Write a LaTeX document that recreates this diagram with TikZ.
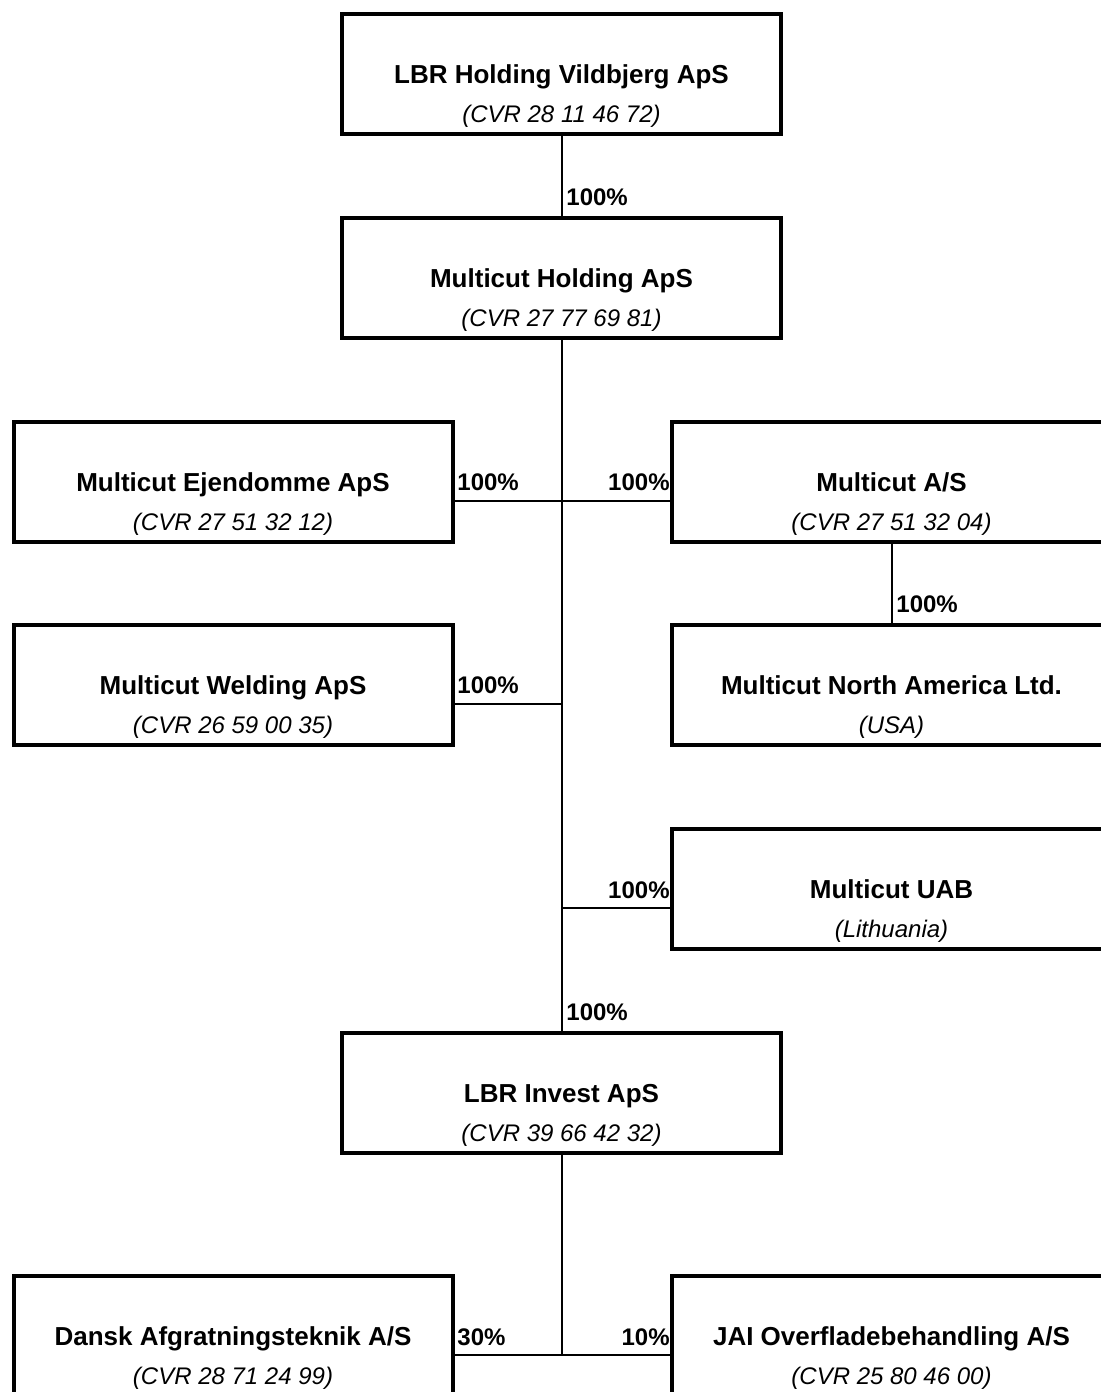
\documentclass[tikz,border=0pt]{standalone}
\usepackage{fontspec}
\setmainfont{Liberation Sans}
\usetikzlibrary{calc}
\newcommand\firmbox[4]{%
  \node[box] (#1) at (#2) {};
  \node[nm] (#1-t) at ($(#1)+(0,9)$) {#3};
  \node[cvr] (#1-s) at ($(#1)+(0,48)$) {#4};}
\begin{document}
\begin{tikzpicture}[x=0.5pt,y=-0.5pt,
  box/.style={draw, line width=2pt, minimum width=219.5pt, minimum height=60pt,
    inner sep=0pt, outer sep=0pt, fill=white},
  conn/.style={line width=1pt},
  nm/.style={font=\fontsize{13}{15}\selectfont\bfseries, anchor=base, inner sep=0pt},
  cvr/.style={font=\fontsize{12}{14}\selectfont\itshape, anchor=base, inner sep=0pt},
  pct/.style={font=\fontsize{12}{14}\selectfont\bfseries, inner sep=0pt}]
\useasboundingbox (0,0) rectangle (1101,1392);

\firmbox{A}{561.5,74}{LBR Holding Vildbjerg ApS}{(CVR 28 11 46 72)}
\firmbox{B}{561.5,278}{Multicut Holding ApS}{(CVR 27 77 69 81)}
\firmbox{C}{233,482}{Multicut Ejendomme ApS}{(CVR 27 51 32 12)}
\firmbox{D}{891.5,482}{Multicut A/S}{(CVR 27 51 32 04)}
\firmbox{E}{233,685}{Multicut Welding ApS}{(CVR 26 59 00 35)}
\firmbox{F}{891.5,685}{Multicut North America Ltd.}{(USA)}
\firmbox{G}{891.5,889}{Multicut UAB}{(Lithuania)}
\firmbox{H}{561.5,1093}{LBR Invest ApS}{(CVR 39 66 42 32)}
\firmbox{I}{233,1336}{Dansk Afgratningsteknik A/S}{(CVR 28 71 24 99)}
\firmbox{J}{891.5,1336}{JAI Overfladebehandling A/S}{(CVR 25 80 46 00)}

\coordinate (j1) at (561.5,704);
\coordinate (j2) at (561.5,908);
\coordinate (j3) at (561.5,1356);

\draw[conn] (A.south) -- (B.north);
\draw[conn] (B.south) -- (H.north);
\draw[conn] ([yshift=-9.5pt]C.east) -- ([yshift=-9.5pt]D.west);
\draw[conn] (D.south) -- (F.north);
\draw[conn] ([yshift=-9.5pt]E.east) -- (j1);
\draw[conn] (j2) -- ([yshift=-9.5pt]G.west);
\draw[conn] (H.south) -- (j3);
\draw[conn] ([yshift=-9.5pt]I.east) -- ([yshift=-9.5pt]J.west);

\node[pct, anchor=base west] (pAB) at (566,205) {100\%};
\node[pct, anchor=base west] (pBC) at (457,490) {100\%};
\node[pct, anchor=base east] (pBD) at (670,490) {100\%};
\node[pct, anchor=base west] (pBE) at (457,693) {100\%};
\node[pct, anchor=base west] (pDF) at (896,612) {100\%};
\node[pct, anchor=base east] (pBG) at (670,898) {100\%};
\node[pct, anchor=base west] (pBH) at (566,1020) {100\%};
\node[pct, anchor=base west] (pHI) at (457,1345) {30\%};
\node[pct, anchor=base east] (pHJ) at (670,1345) {10\%};
\end{tikzpicture}
\end{document}
